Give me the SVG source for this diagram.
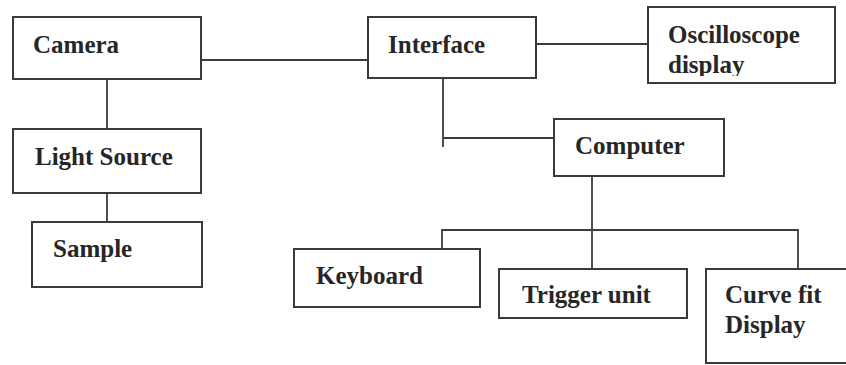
<svg xmlns="http://www.w3.org/2000/svg" width="846" height="365" viewBox="0 0 846 365">
  <style>
    .box { fill: #ffffff; stroke: #3a3a3a; stroke-width: 2; }
    .lbl { font-family: 'Liberation Serif', 'DejaVu Serif', serif; font-weight: 700; font-size: 25px; fill: #262626; }
    .wire { fill: none; stroke: #3c3c3c; stroke-width: 1.8; }
  </style>
  <defs>
    <!-- text frame of the oscilloscope label; its lower edge trims the descenders -->
    <clipPath id="oscClip">
      <rect x="649" y="8" width="185" height="68"/>
    </clipPath>
  </defs>
  <rect width="846" height="365" fill="#ffffff"/>

  <g id="connectors">
    <line class="wire" x1="201" y1="60" x2="368" y2="60"/>
    <line class="wire" x1="536" y1="44" x2="648" y2="44"/>
    <line class="wire" x1="107" y1="79" x2="107" y2="129"/>
    <line class="wire" x1="107" y1="193" x2="107" y2="222"/>
    <line class="wire" x1="443" y1="78" x2="443" y2="147"/>
    <line class="wire" x1="443" y1="138" x2="554" y2="138"/>
    <line class="wire" x1="592" y1="176" x2="592" y2="269"/>
    <polyline class="wire" points="442,249 442,230 798,230 798,269"/>
  </g>

  <g id="camera">
    <rect class="box" x="13" y="17" width="188" height="62"/>
    <text class="lbl" x="33" y="53">Camera</text>
  </g>
  <g id="interface">
    <rect class="box" x="368" y="17" width="168" height="61"/>
    <text class="lbl" x="388" y="53">Interface</text>
  </g>
  <g id="oscilloscope">
    <rect class="box" x="648" y="7" width="187" height="76"/>
    <g clip-path="url(#oscClip)">
      <text class="lbl" x="668" y="43">Oscilloscope</text>
      <text class="lbl" x="668" y="73">display</text>
    </g>
  </g>
  <g id="computer">
    <rect class="box" x="554" y="119" width="170" height="57"/>
    <text class="lbl" x="575" y="154">Computer</text>
  </g>
  <g id="light-source">
    <rect class="box" x="13" y="129" width="188" height="64"/>
    <text class="lbl" x="35" y="165">Light Source</text>
  </g>
  <g id="sample">
    <rect class="box" x="32" y="222" width="170" height="65"/>
    <text class="lbl" x="53" y="257">Sample</text>
  </g>
  <g id="keyboard">
    <rect class="box" x="294" y="249" width="186" height="58"/>
    <text class="lbl" x="316" y="284">Keyboard</text>
  </g>
  <g id="trigger-unit">
    <rect class="box" x="499" y="269" width="188" height="49"/>
    <text class="lbl" x="522" y="303">Trigger unit</text>
  </g>
  <g id="curve-fit-display">
    <rect class="box" x="706" y="269" width="150" height="94"/>
    <text class="lbl" x="725" y="303">Curve fit</text>
    <text class="lbl" x="725" y="333">Display</text>
  </g>
</svg>
